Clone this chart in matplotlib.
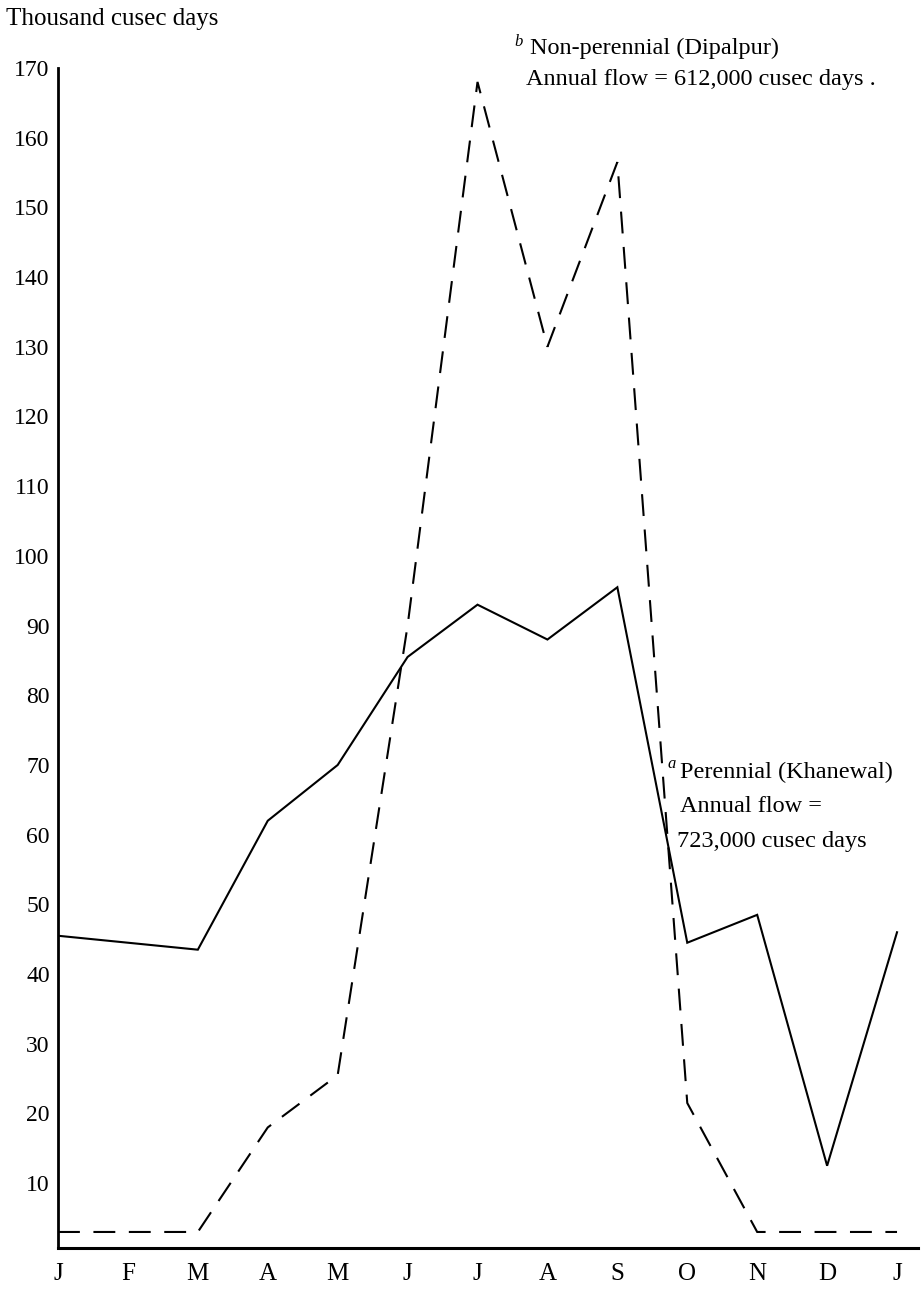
import matplotlib
matplotlib.use("Agg")
import matplotlib.pyplot as plt

# Monthly canal discharge, thousand cusec days (January to January)
months = ["J", "F", "M", "A", "M", "J", "J", "A", "S", "O", "N", "D", "J"]
perennial_khanewal = [45.5, 44.5, 43.5, 62, 70, 85.5, 93, 88, 95.5, 44.5, 48.5, 12.5, 46]
nonperennial_dipalpur = [3, 3, 3, 18, 25.5, 90, 168, 130, 156.5, 21.5, 3, 3, 3]
y_ticks = list(range(10, 180, 10))

FONT = "Liberation Serif"
W, H = 921, 1296

fig = plt.figure(figsize=(W / 100, H / 100), dpi=100)
left_px, right_px, top_px, bottom_px = 58, 918, 68, 1248
ax = fig.add_axes([left_px / W, 1 - bottom_px / H,
                   (right_px - left_px) / W, (bottom_px - top_px) / H])

x = list(range(len(months)))
ax.plot(x, perennial_khanewal, color="black", lw=1.5, solid_joinstyle="miter")
ax.plot(x, nonperennial_dipalpur, color="black", lw=1.5,
        linestyle=(0, (10.5, 6.5)), dash_joinstyle="miter")

ax.set_xlim(0, 12.3)
ax.set_ylim(0.7, 170)

for side in ("top", "right"):
    ax.spines[side].set_visible(False)
ax.spines["left"].set_linewidth(2.0)
ax.spines["bottom"].set_linewidth(2.2)

ax.set_xticks(x)
ax.set_xticklabels(months, fontfamily=FONT, fontsize=18)
ax.set_yticks(y_ticks)
ax.set_yticklabels([str(v) for v in y_ticks], fontfamily=FONT, fontsize=17)
ax.tick_params(axis="x", length=0, pad=11)
ax.tick_params(axis="y", length=0, pad=6)

def px_text(px, py, s, size=17.5, **kw):
    fig.text(px / W, 1 - py / H, s, fontfamily=FONT, fontsize=size,
             va="center", ha="left", **kw)

px_text(6, 19, "Thousand cusec days", size=18)

px_text(514, 42, "b", size=12, style="italic")
px_text(530, 48, "Non-perennial (Dipalpur)")
px_text(526, 79, "Annual flow = 612,000 cusec days .")

px_text(667, 764, "a", size=12, style="italic")
px_text(680, 772, "Perennial (Khanewal)")
px_text(680, 806, "Annual flow =")
px_text(677, 841, "723,000 cusec days")

fig.savefig("out.png", dpi=100, facecolor="white")
